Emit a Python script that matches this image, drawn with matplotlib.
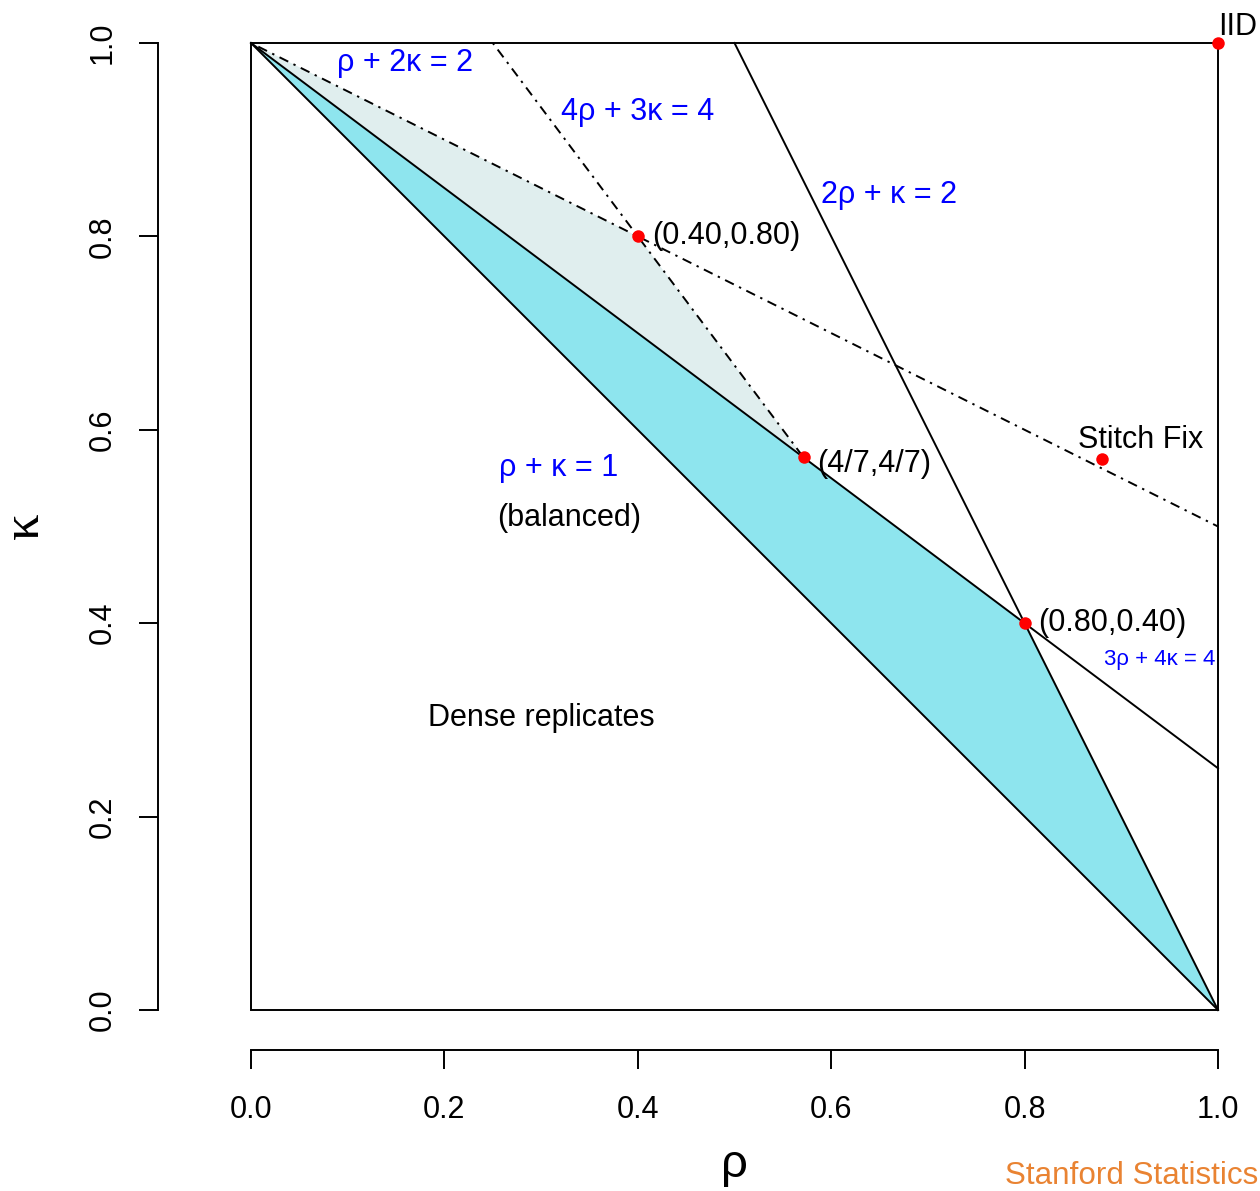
import matplotlib

matplotlib.use("Agg")
import matplotlib.pyplot as plt
from matplotlib.patches import Polygon, Rectangle

plt.rcParams["font.family"] = ["Liberation Sans", "DejaVu Sans"]

# feasible regions
cyan_rho = [0.0, 0.8, 1.0]
cyan_kappa = [1.0, 0.4, 0.0]
gray_rho = [0.0, 0.4, 4 / 7]
gray_kappa = [1.0, 0.8, 4 / 7]

# solid boundary lines (endpoints)
balanced_rho, balanced_kappa = [0.0, 1.0], [1.0, 0.0]        # rho + kappa = 1
line_34_rho, line_34_kappa = [0.0, 1.0], [1.0, 0.25]         # 3rho + 4kappa = 4
line_21_rho, line_21_kappa = [0.5, 1.0], [1.0, 0.0]          # 2rho + kappa = 2
# dash-dot lines
line_12_rho, line_12_kappa = [0.0, 1.0], [1.0, 0.5]          # rho + 2kappa = 2
line_43_rho, line_43_kappa = [0.25, 4 / 7], [1.0, 4 / 7]     # 4rho + 3kappa = 4

# corner points
corner_rho = [0.4, 4 / 7, 0.8]
corner_kappa = [0.8, 4 / 7, 0.4]
corner_labels = ["(0.40,0.80)", "(4/7,4/7)", "(0.80,0.40)"]
iid_rho, iid_kappa = 1.0, 1.0
stitch_rho, stitch_kappa = 0.88, 0.57

ticks = [0.0, 0.2, 0.4, 0.6, 0.8, 1.0]
tick_labels = ["0.0", "0.2", "0.4", "0.6", "0.8", "1.0"]

W, H = 1260, 1191
fig = plt.figure(figsize=(W / 100, H / 100), dpi=100)
ax = fig.add_axes([251 / W, 1 - 1010 / H, 967 / W, 967 / H])
ax.set_xlim(0, 1)
ax.set_ylim(0, 1)

lw = 1.4
dotdash = (0, (1.2, 3, 5, 3))

ax.add_patch(Polygon(list(zip(cyan_rho, cyan_kappa)), closed=True,
                     facecolor="#8EE5EE", edgecolor="none", zorder=1))
ax.add_patch(Polygon(list(zip(gray_rho, gray_kappa)), closed=True,
                     facecolor="#E0EEEE", edgecolor="none", zorder=1))

for xs, ys in [(balanced_rho, balanced_kappa), (line_34_rho, line_34_kappa),
               (line_21_rho, line_21_kappa)]:
    ax.plot(xs, ys, color="black", lw=lw, zorder=2, clip_on=False)
for xs, ys in [(line_12_rho, line_12_kappa), (line_43_rho, line_43_kappa)]:
    ax.plot(xs, ys, color="black", lw=lw, ls=dotdash, zorder=2, clip_on=False)

ax.plot(corner_rho + [iid_rho, stitch_rho], corner_kappa + [iid_kappa, stitch_kappa],
        "o", color="red", ms=9, mec="none", zorder=4, clip_on=False)

fs = 22
for r, k, lab in zip(corner_rho, corner_kappa, corner_labels):
    dy = -5 if lab == "(4/7,4/7)" else 0
    ax.annotate(lab, (r, k), xytext=(10, dy), textcoords="offset points",
                ha="left", va="center", fontsize=fs)
ax.annotate("IID", (iid_rho, iid_kappa), xytext=(0, 6), textcoords="offset points",
            ha="left", va="baseline", fontsize=fs, annotation_clip=False)
ax.text(0.92, 0.589, "Stitch Fix", ha="center", va="center", fontsize=fs)

blue = "#0000FF"
ax.text(0.159, 0.979, "ρ + 2κ = 2", color=blue, ha="center", va="center", fontsize=fs)
ax.text(0.40, 0.929, "4ρ + 3κ = 4", color=blue, ha="center", va="center", fontsize=fs)
ax.text(0.66, 0.843, "2ρ + κ = 2", color=blue, ha="center", va="center", fontsize=fs)
ax.text(0.318, 0.56, "ρ + κ = 1", color=blue, ha="center", va="center", fontsize=fs)
ax.text(0.94, 0.362, "3ρ + 4κ = 4", color=blue, ha="center", va="center", fontsize=16)
ax.text(0.329, 0.509, "(balanced)", ha="center", va="center", fontsize=fs)
ax.text(0.30, 0.302, "Dense replicates", ha="center", va="center", fontsize=fs)

# R-style box plus detached axes
for s in ["top", "right"]:
    ax.spines[s].set_visible(False)
ax.spines["left"].set_position(("outward", 93 * 0.72))
ax.spines["bottom"].set_position(("outward", 40 * 0.72))
for s in ["left", "bottom"]:
    ax.spines[s].set_linewidth(lw)
ax.add_patch(Rectangle((0, 0), 1, 1, transform=ax.transAxes, fill=False,
                       lw=lw, edgecolor="black", clip_on=False, zorder=3))

ax.set_xticks(ticks)
ax.set_xticklabels(tick_labels)
ax.set_yticks(ticks)
ax.set_yticklabels(tick_labels)
ax.tick_params(direction="out", length=19 * 0.72, width=lw, labelsize=fs)
ax.tick_params(axis="x", pad=26 * 0.72)
ax.tick_params(axis="y", pad=21 * 0.72)
for t in ax.get_yticklabels():
    t.set_rotation(90)
    t.set_va("center")

fig.text(734 / W, 1 - 1177 / H, "ρ", fontsize=34, ha="center", va="baseline")
fig.text(38 / W, 1 - 526 / H, "κ", fontsize=38, family=["Liberation Serif", "DejaVu Serif"],
         rotation=90, rotation_mode="anchor", ha="center", va="baseline")
fig.text(1258 / W, 1 - 1184 / H, "Stanford Statistics", color="#E98332",
         fontsize=22.6, ha="right", va="baseline")

fig.savefig("out.png", dpi=100)
